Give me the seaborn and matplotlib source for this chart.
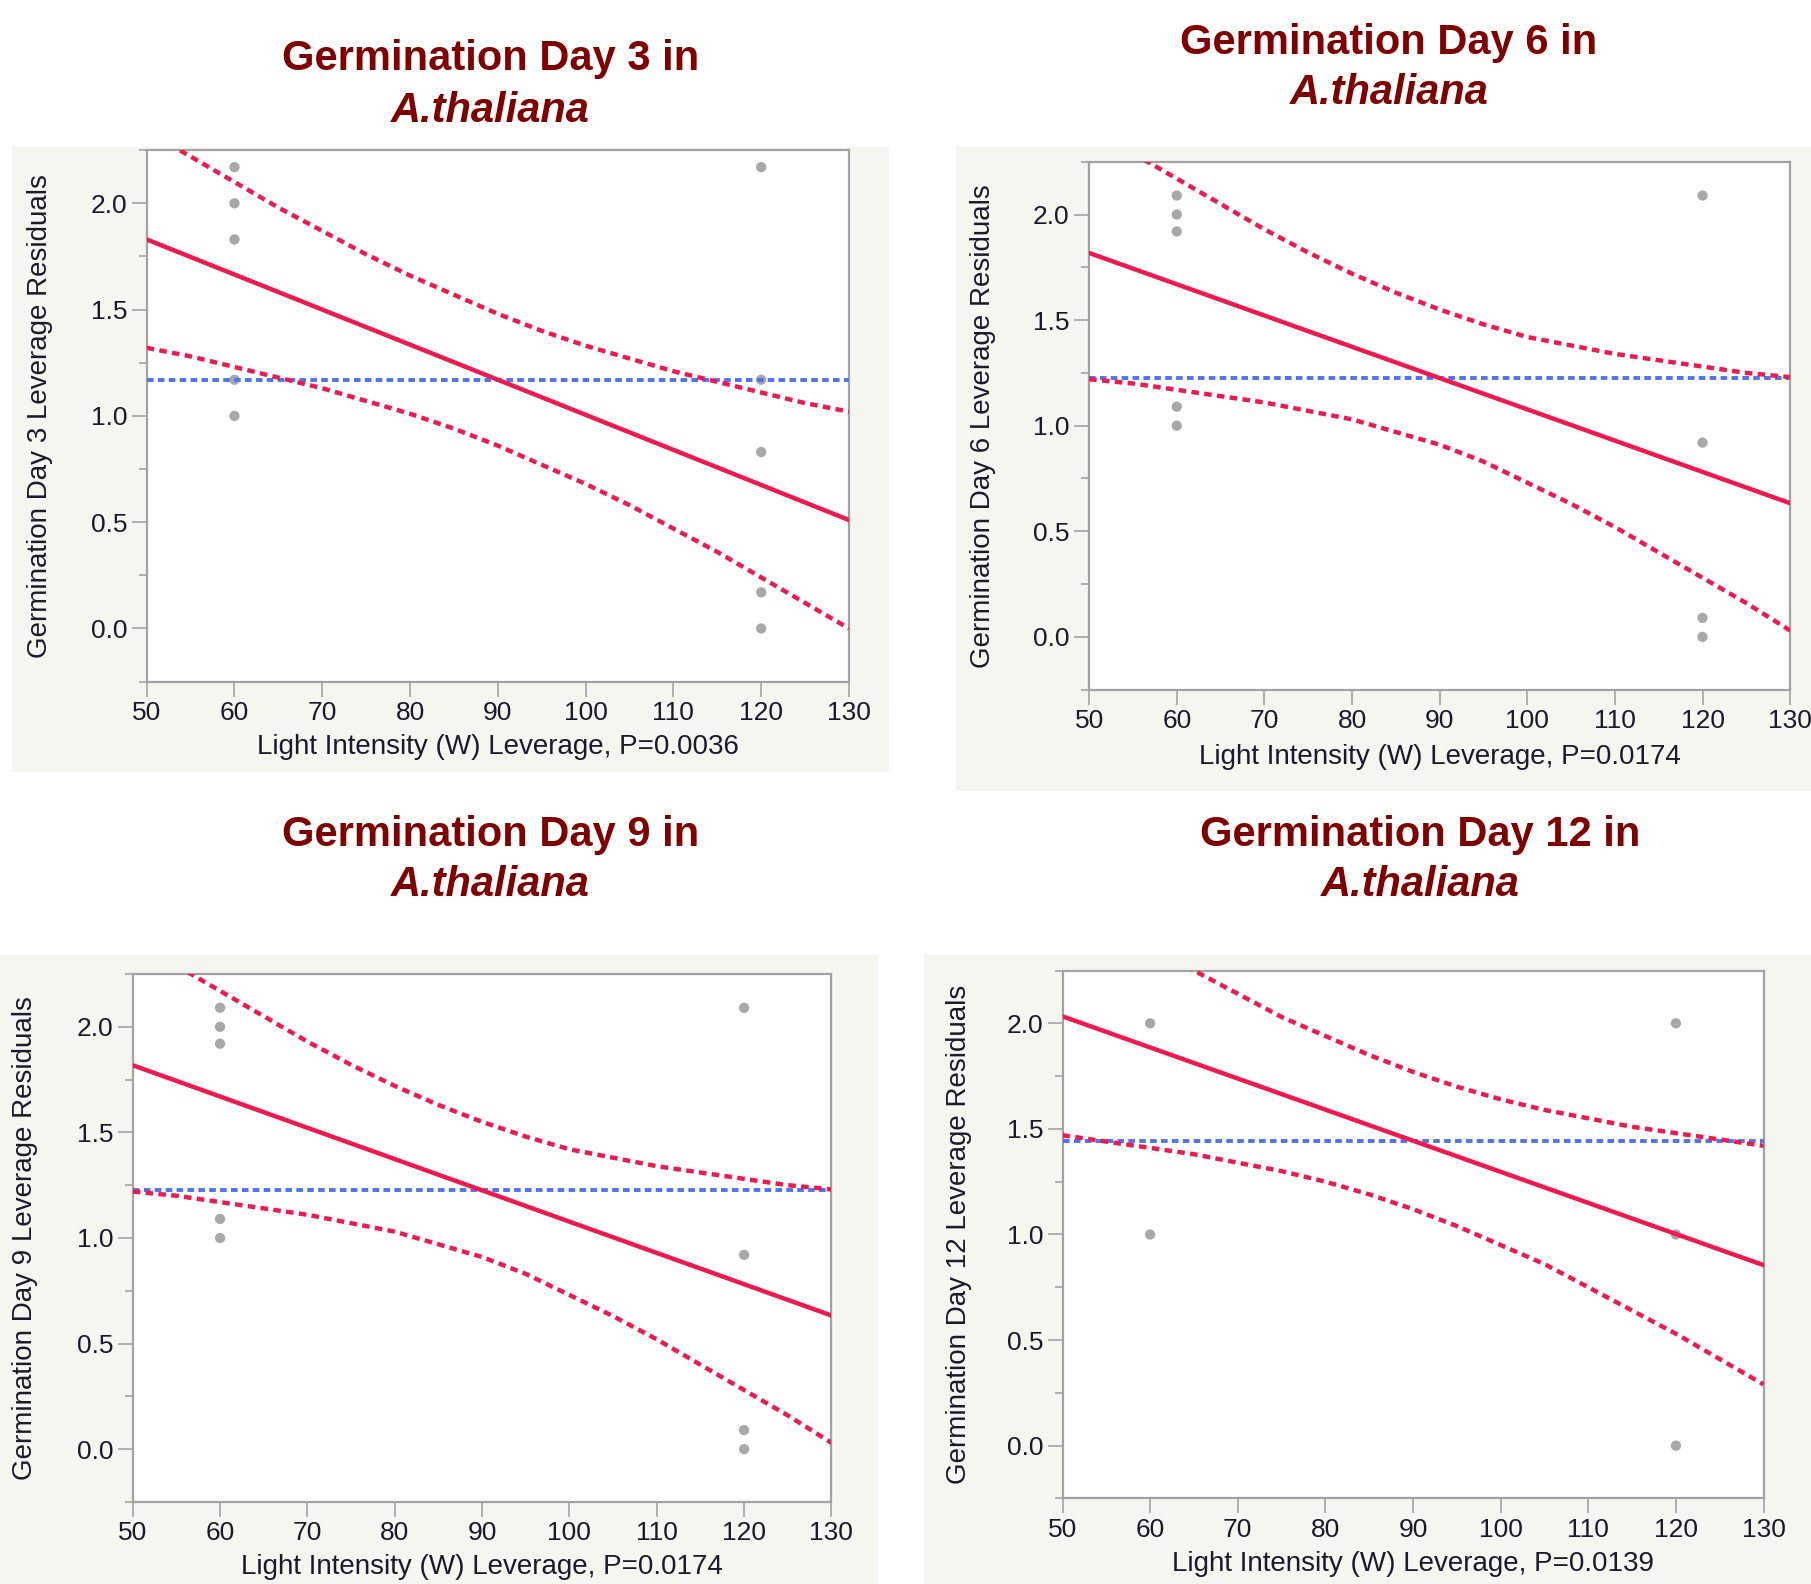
import matplotlib
matplotlib.use("Agg")
import matplotlib.pyplot as plt
import seaborn as sns
from matplotlib.patches import Rectangle
from matplotlib.ticker import MultipleLocator, FormatStrFormatter

# x positions where the confidence curves were read
x_grid = [50, 55, 60, 65, 70, 75, 80, 85, 90, 95, 100, 105, 110, 115, 120, 125, 130]
fit_x = [50, 130]

# Day 3
day3_pts_x = [60, 60, 60, 60, 60, 120, 120, 120, 120, 120]
day3_pts_y = [2.17, 2.0, 1.83, 1.17, 1.0, 2.17, 1.17, 0.83, 0.17, 0.0]
day3_fit = [1.83, 0.51]
day3_upper = [2.34, 2.22, 2.10, 1.98, 1.87, 1.76, 1.66, 1.57, 1.48,
              1.40, 1.33, 1.27, 1.21, 1.16, 1.11, 1.06, 1.02]
day3_lower = [1.32, 1.28, 1.23, 1.18, 1.13, 1.07, 1.01, 0.94, 0.86,
              0.77, 0.68, 0.58, 0.47, 0.36, 0.24, 0.12, 0.00]
day3_mean = 1.17

# Day 6
day6_pts_x = [60, 60, 60, 60, 60, 120, 120, 120, 120]
day6_pts_y = [2.09, 2.0, 1.92, 1.09, 1.0, 2.09, 0.92, 0.09, 0.0]
day6_fit = [1.818, 0.633]
day6_upper = [2.42, 2.29, 2.17, 2.05, 1.93, 1.82, 1.72, 1.63, 1.55,
              1.48, 1.42, 1.38, 1.34, 1.31, 1.28, 1.25, 1.23]
day6_lower = [1.22, 1.20, 1.17, 1.14, 1.11, 1.07, 1.03, 0.97, 0.91,
              0.83, 0.73, 0.63, 0.52, 0.40, 0.28, 0.16, 0.03]
day6_mean = 1.226

# Day 9
day9_pts_x = [60, 60, 60, 60, 60, 120, 120, 120, 120]
day9_pts_y = [2.09, 2.0, 1.92, 1.09, 1.0, 2.09, 0.92, 0.09, 0.0]
day9_fit = [1.818, 0.633]
day9_upper = [2.42, 2.29, 2.17, 2.05, 1.93, 1.82, 1.72, 1.63, 1.55,
              1.48, 1.42, 1.38, 1.34, 1.31, 1.28, 1.25, 1.23]
day9_lower = [1.22, 1.20, 1.17, 1.14, 1.11, 1.07, 1.03, 0.97, 0.91,
              0.83, 0.73, 0.63, 0.52, 0.40, 0.28, 0.16, 0.03]
day9_mean = 1.226

# Day 12
day12_pts_x = [60, 60, 120, 120, 120]
day12_pts_y = [2.0, 1.0, 2.0, 1.0, 0.0]
day12_fit = [2.033, 0.855]
day12_upper = [2.60, 2.48, 2.36, 2.25, 2.14, 2.03, 1.94, 1.85, 1.77,
               1.70, 1.64, 1.59, 1.55, 1.51, 1.48, 1.45, 1.42]
day12_lower = [1.47, 1.44, 1.41, 1.38, 1.34, 1.30, 1.25, 1.19, 1.12,
               1.04, 0.95, 0.86, 0.75, 0.64, 0.53, 0.41, 0.29]
day12_mean = 1.444

titles = ["Germination Day 3 in", "Germination Day 6 in",
          "Germination Day 9 in", "Germination Day 12 in"]
ylabels = ["Germination Day 3 Leverage Residuals", "Germination Day 6 Leverage Residuals",
           "Germination Day 9 Leverage Residuals", "Germination Day 12 Leverage Residuals"]
xlabels = ["Light Intensity (W) Leverage, P=0.0036", "Light Intensity (W) Leverage, P=0.0174",
           "Light Intensity (W) Leverage, P=0.0174", "Light Intensity (W) Leverage, P=0.0139"]

sns.set_theme(style="white")
plt.rcParams["font.family"] = ["Liberation Sans", "DejaVu Sans"]

RED = "#f0184f"
BLUE = "#4f72f2"
DOT = "#a8a8a8"
SPINE = "#a3a3a3"
TITLE = "#800000"
PANEL_BG = "#f6f6f1"
TXT = "#1a1a2a"

fig = plt.figure(figsize=(18.11, 15.84), dpi=100)

# layout: axes rect, background rect, title x, title y1, title y2, ylabel x, xlabel y
layout = [
    ([0.081, 0.5697, 0.3878, 0.3355], [0.0064, 0.5128, 0.4847, 0.3946], 0.271, 0.963, 0.930, -0.152, -0.124),
    ([0.6014, 0.5646, 0.3871, 0.3333], [0.528, 0.5004, 0.472, 0.4070], 0.767, 0.973, 0.941, -0.152, -0.127),
    ([0.0733, 0.0518, 0.3858, 0.3333], [0.0, 0.0, 0.4847, 0.3968], 0.271, 0.473, 0.441, -0.154, -0.123),
    ([0.5867, 0.0540, 0.3871, 0.3333], [0.5102, 0.0, 0.4898, 0.3968], 0.784, 0.473, 0.441, -0.148, -0.125),
]

panels = [
    (day3_pts_x, day3_pts_y, day3_fit, day3_upper, day3_lower, day3_mean),
    (day6_pts_x, day6_pts_y, day6_fit, day6_upper, day6_lower, day6_mean),
    (day9_pts_x, day9_pts_y, day9_fit, day9_upper, day9_lower, day9_mean),
    (day12_pts_x, day12_pts_y, day12_fit, day12_upper, day12_lower, day12_mean),
]

for i, (px, py, fit, upper, lower, mean) in enumerate(panels):
    rect, bg, tx, ty1, ty2, ylx, xly = layout[i]
    fig.add_artist(Rectangle((bg[0], bg[1]), bg[2], bg[3], transform=fig.transFigure,
                             facecolor=PANEL_BG, edgecolor="none", zorder=-1))
    ax = fig.add_axes(rect)
    ax.set_facecolor("white")

    sns.scatterplot(x=px, y=py, ax=ax, color=DOT, s=55, edgecolor="none", zorder=2)
    sns.lineplot(x=fit_x, y=[mean, mean], ax=ax, color=BLUE,
                 linewidth=2.8, linestyle=(0, (1.7, 1.1)), zorder=3)
    sns.lineplot(x=x_grid, y=upper, ax=ax, color=RED, linewidth=3.2,
                 linestyle=(0, (1.7, 1.2)), zorder=4)
    sns.lineplot(x=x_grid, y=lower, ax=ax, color=RED, linewidth=3.2,
                 linestyle=(0, (1.7, 1.2)), zorder=4)
    sns.lineplot(x=fit_x, y=fit, ax=ax, color=RED, linewidth=3.2, zorder=5)

    ax.set_xlim(50, 130)
    ax.set_ylim(-0.25, 2.25)
    ax.set_xticks(range(50, 131, 10))
    ax.yaxis.set_major_locator(MultipleLocator(0.5))
    ax.yaxis.set_minor_locator(MultipleLocator(0.25))
    ax.yaxis.set_major_formatter(FormatStrFormatter("%.1f"))
    ax.tick_params(axis="both", which="major", length=11, width=1.2, color=SPINE,
                   labelsize=19, labelcolor=TXT, pad=3, direction="out")
    ax.tick_params(axis="y", which="minor", length=6, width=1.2, color=SPINE, direction="out")
    ax.tick_params(left=True, bottom=True, which="both")
    ax.tick_params(axis="x", which="minor", bottom=False)
    for sp in ax.spines.values():
        sp.set_color(SPINE)
        sp.set_linewidth(1.6)

    ax.set_ylabel(ylabels[i], fontsize=20, color=TXT, va="center")
    ax.set_xlabel(xlabels[i], fontsize=20, color=TXT, va="center")
    ax.yaxis.set_label_coords(ylx, 0.5)
    ax.xaxis.set_label_coords(0.5, xly)

    fig.text(tx, ty1, titles[i], ha="center", va="center", fontsize=30,
             fontweight="bold", color=TITLE)
    fig.text(tx, ty2, "A.thaliana", ha="center", va="center", fontsize=30,
             fontweight="bold", fontstyle="italic", color=TITLE)

fig.savefig("out.png", dpi=100)
